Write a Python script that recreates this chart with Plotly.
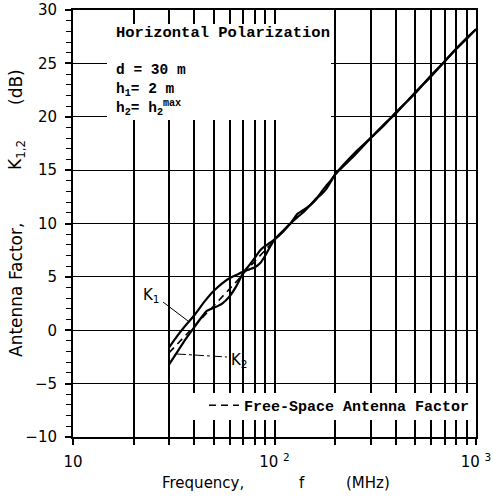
import math
import plotly.graph_objects as go

# ---------------- data ----------------
freq_fs = [30, 33, 36, 40, 45, 50, 55, 60, 65, 70, 75, 80, 85, 90, 95, 100,
           110, 120, 130, 140, 150, 160, 170, 180, 190, 200, 250, 300, 350,
           400, 500, 600, 700, 800, 900, 1000]
af_fs = [-2.1, -1.3, -0.5, 0.4, 1.4, 2.3, 3.1, 3.9, 4.6, 5.3, 5.9, 6.5, 7.0,
         7.5, 8.0, 8.4, 9.25, 10.0, 10.75, 11.25, 11.7, 12.25, 12.8, 13.35,
         13.95, 14.6, 16.5, 18.0, 19.25, 20.35, 22.25, 23.85, 25.2, 26.4,
         27.35, 28.2]

freq_k1 = [30, 33, 36, 40, 45, 50, 55, 60, 65, 70, 75, 80, 85, 90, 95, 100,
           110, 120, 130, 140, 150, 160, 170, 180, 190, 200, 250, 300, 350,
           400, 500, 600, 700, 800, 900, 1000]
k1 = [-1.6, -0.5, 0.4, 1.4, 2.7, 3.7, 4.4, 4.9, 5.2, 5.5, 5.7, 5.9, 6.3, 7.0,
      7.8, 8.5, 9.3, 10.0, 10.9, 11.3, 11.7, 12.2, 12.9, 13.5, 14.0, 14.6,
      16.6, 18.0, 19.2, 20.4, 22.2, 23.9, 25.2, 26.4, 27.3, 28.2]

freq_k2 = [30, 33, 36, 40, 43, 46, 50, 55, 60, 65, 70, 75, 80, 85, 90, 95,
           100, 110, 120, 130, 140, 150, 160, 170, 180, 190, 200, 250, 300,
           350, 400, 500, 600, 700, 800, 900, 1000]
k2 = [-3.2, -2.0, -0.9, 0.3, 1.1, 1.8, 2.1, 2.5, 3.2, 4.2, 5.4, 6.1, 6.8, 7.5,
      7.9, 8.2, 8.5, 9.2, 10.0, 10.6, 11.1, 11.7, 12.3, 12.7, 13.2, 13.9,
      14.6, 16.4, 18.0, 19.3, 20.3, 22.3, 23.8, 25.2, 26.4, 27.4, 28.2]

x_ticks = [10, 100, 1000]
x_labels = ["10", "10 <sup>2</sup>", "10 <sup>3</sup>"]
y_ticks = [-10, -5, 0, 5, 10, 15, 20, 25, 30]

# ---------------- figure ----------------
W, H = 493, 499
ML, MR, MT, MB = 73, 17, 10, 62
PW, PH = W - ML - MR, H - MT - MB


def px(x):
    return (x - ML) / PW


def py(y):
    return (H - MB - y) / PH


mono = "Liberation Mono, Courier New, monospace"
sans = "DejaVu Sans, Arial, sans-serif"

fig = go.Figure()
fig.add_trace(go.Scatter(x=freq_k1, y=k1, mode="lines", showlegend=False,
                         line=dict(color="black", width=2.2, shape="spline",
                                   smoothing=0.5)))
fig.add_trace(go.Scatter(x=freq_k2, y=k2, mode="lines", showlegend=False,
                         line=dict(color="black", width=2.2, shape="spline",
                                   smoothing=0.5)))
fig.add_trace(go.Scatter(x=freq_fs, y=af_fs, mode="lines",
                         name="Free-Space Antenna Factor",
                         line=dict(color="black", width=1.6, dash="7px,5px")))
# helper trace so the top (mirror) axis with inner ticks is drawn
fig.add_trace(go.Scatter(x=freq_fs, y=af_fs, mode="lines", xaxis="x2",
                         showlegend=False, hoverinfo="skip",
                         line=dict(width=0), opacity=0))

fig.update_layout(
    width=W, height=H,
    margin=dict(l=ML, r=MR, t=MT, b=MB, autoexpand=False),
    paper_bgcolor="white", plot_bgcolor="white",
    font=dict(family=sans, size=15, color="black"),
    xaxis=dict(type="log", range=[1, 3], tickvals=x_ticks,
               ticktext=x_labels, showgrid=True, gridcolor="black",
               gridwidth=1.8, ticks="outside", ticklen=6, tickwidth=1.5,
               tickcolor="black", showline=True, linecolor="black",
               linewidth=2, mirror=True, zeroline=False, automargin=False,
               ticklabelstandoff=4, tickfont=dict(family=sans, size=15),
               minor=dict(dtick="D1", showgrid=True, gridcolor="black",
                          gridwidth=1.8, ticks="outside", ticklen=6,
                          tickwidth=1.5, tickcolor="black")),
    xaxis2=dict(type="log", range=[1, 3], overlaying="x", side="top",
                tickvals=x_ticks, showticklabels=False, showgrid=False,
                ticks="inside", ticklen=13, tickwidth=1.5, tickcolor="black",
                showline=False, zeroline=False, automargin=False,
                minor=dict(dtick="D1", showgrid=False, ticks="inside",
                           ticklen=13, tickwidth=1.5, tickcolor="black")),
    yaxis=dict(range=[-10, 30], tickvals=y_ticks, showgrid=True,
               gridcolor="black", gridwidth=1.3, ticks="outside", ticklen=6,
               tickwidth=1.5, tickcolor="black", showline=True,
               linecolor="black", linewidth=2, mirror=True, zeroline=False,
               automargin=False,
               ticklabelstandoff=5, tickfont=dict(family=sans, size=15),
               minor=dict(dtick=1, ticks="outside", ticklen=5, tickwidth=1,
                          tickcolor="black", showgrid=False)),
    legend=dict(x=px(204), y=py(389), xanchor="left", yanchor="top",
                bgcolor="rgba(0,0,0,0)", borderwidth=0,
                font=dict(family=mono, size=15, weight="bold"), itemwidth=30),
    showlegend=True,
)

# white boxes that hide the grid behind the text blocks
fig.add_shape(type="rect", xref="paper", yref="paper", layer="above",
              x0=px(107), x1=px(331), y0=py(120), y1=py(24),
              fillcolor="white", line=dict(width=0))
fig.add_shape(type="rect", xref="paper", yref="paper", layer="above",
              x0=px(185), x1=px(475), y0=py(420), y1=py(393),
              fillcolor="white", line=dict(width=0))

# leader lines for K1 / K2
fig.add_shape(type="line", xref="paper", yref="paper",
              x0=px(163), y0=py(302), x1=px(188), y1=py(321),
              line=dict(color="black", width=1))
fig.add_shape(type="line", xref="paper", yref="paper",
              x0=px(177), y0=py(354), x1=px(227), y1=py(357),
              line=dict(color="black", width=1, dash="dashdot"))

ann = []


def text(s, x, y, fam, size, xa="left", ya="middle", angle=0, weight="normal"):
    ann.append(dict(text=s, x=x, y=y, xref="paper", yref="paper",
                    showarrow=False, xanchor=xa, yanchor=ya, textangle=angle,
                    align="left",
                    font=dict(family=fam, size=size, color="black",
                              weight=weight)))


text("Horizontal Polarization", px(114), py(33), mono, 15.5, weight="bold")
text("d = 30 m<br>h<sub>1</sub>= 2 m<br>h<sub>2</sub>= h<sub>2</sub><sup>max</sup>",
     px(114), py(60), mono, 14.5, ya="top", weight="bold")

text("K<sub>1</sub>", px(151), py(295), sans, 15, xa="center")
text("K<sub>2</sub>", px(239), py(360), sans, 15, xa="center")

text("Frequency,", px(203), py(483), sans, 15, xa="center")
text("f", px(302), py(483), sans, 15, xa="center")
text("(MHz)", px(368), py(483), sans, 15, xa="center")

text("Antenna Factor,", px(16), py(290), sans, 17, xa="center", angle=-90)
text("K<sub>1,2</sub>", px(16), py(155), sans, 17, xa="center", angle=-90)
text("(dB)", px(16), py(87), sans, 17, xa="center", angle=-90)

fig.update_layout(annotations=ann)

fig.write_html("out.html", post_script="document.body.style.margin='0px';",
               config={"displayModeBar": False})
